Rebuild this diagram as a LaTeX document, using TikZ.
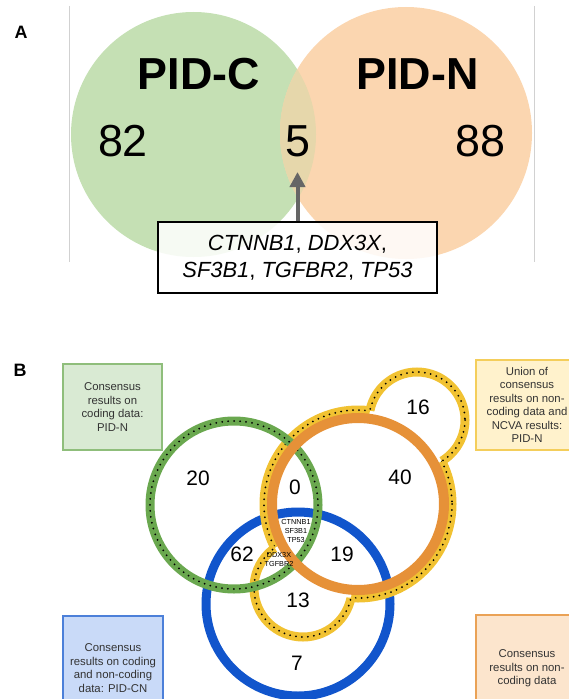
\documentclass[tikz,border=0pt]{standalone}
\usepackage{fontspec}
\setmainfont{Liberation Sans}
\usetikzlibrary{arrows.meta}
\definecolor{vennC}{RGB}{197,224,180}
\definecolor{vennN}{RGB}{251,214,176}
\definecolor{vennCN}{RGB}{230,215,171}
\definecolor{ringgreen}{RGB}{106,168,79}
\definecolor{ringblue}{RGB}{17,85,204}
\definecolor{ringorange}{RGB}{230,145,56}
\definecolor{ringyellow}{RGB}{241,194,50}
\definecolor{boxgreen}{RGB}{217,234,211}
\definecolor{boxyellow}{RGB}{255,242,204}
\definecolor{boxblue}{RGB}{201,218,248}
\definecolor{boxorange}{RGB}{252,229,205}
\begin{document}
\begin{tikzpicture}[x=1bp,y=-1bp,
		panel/.style={font=\bfseries\fontsize{18}{20}\selectfont},
		title/.style={font=\bfseries\fontsize{45}{54}\selectfont},
		bigcount/.style={font=\fontsize{45}{54}\selectfont},
		count/.style={font=\fontsize{21}{25}\selectfont},
		gene/.style={font=\fontsize{7.3}{9}\selectfont, align=center, inner sep=0pt},
		legend/.style={draw, line width=1.2bp, align=center, inner sep=2bp, text=black!80, font=\fontsize{11.4}{13.6}\selectfont},
		ring/.style={line width=9bp},
		dots/.style={line width=2bp, dash pattern=on 0bp off 6bp, line cap=round},
		pointer/.style={draw=black!60, line width=4bp, -{Triangle[width=15bp,length=15bp]}}]
	\useasboundingbox (0,0) rectangle (569,699);
	\clip (0,0) rectangle (569,699);
	% A
	\node[panel] (labA) at (21,32) {A};
	\draw[black!18] (69,6) -- (69,262);
	\draw[black!18] (534,6) -- (534,262);
	\coordinate (cC) at (193.5,134.5);
	\coordinate (cN) at (406,133);
	\fill[vennC] (cC) circle (122.5);
	\fill[vennN] (cN) circle (126);
	\begin{scope}
		\clip (cC) circle (122.5);
		\fill[vennCN] (cN) circle (126);
	\end{scope}
	\node[title] (pidc) at (199,74) {PID-C};
	\node[title] (pidn) at (417.5,74) {PID-N};
	\node[bigcount] (onlyC) at (123,141) {82};
	\node[bigcount] (both) at (297.5,141) {5};
	\node[bigcount] (onlyN) at (480,141) {88};
	\node[draw, line width=1.5bp, fill=white, fill opacity=.85, text opacity=1, minimum width=279bp, minimum height=71bp, align=center, font=\fontsize{22}{27}\selectfont] (genes) at (297.5,257.5)
		{{\itshape CTNNB1}, {\itshape DDX3X},\\{\itshape SF3B1}, {\itshape TGFBR2}, {\itshape TP53}};
	\coordinate (tip) at (297.5,172);
	\draw[pointer] (genes) -- (tip);
	% B
	\node[panel] (labB) at (20,370) {B};
	\coordinate (cG) at (234,505);
	\coordinate (cB) at (298,604);
	\coordinate (cO) at (358,504);
	\coordinate (cT) at (417,420);
	\coordinate (cL) at (303,588);
	\draw[ring, ringblue] (cB) circle (92);
	\begin{scope}[even odd rule]
		\clip (0,0) rectangle (569,699) (cT) circle (48);
		\clip (0,0) rectangle (569,699) (cL) circle (49);
		\draw[ring, ringyellow] (cO) circle (94);
		\draw[dots] (cO) circle (94);
	\end{scope}
	\begin{scope}[even odd rule]
		\clip (0,0) rectangle (569,699) (cO) circle (94);
		\draw[ring, ringyellow] (cT) circle (48) (cL) circle (49);
		\draw[dots] (cT) circle (48) (cL) circle (49);
	\end{scope}
	\draw[ring, ringgreen] (cG) circle (84);
	\draw[dots] (cG) circle (84);
	\draw[ring, ringorange, line width=10bp] (cO) circle (86);
	\node[count] (n20) at (198,478) {20};
	\node[count] (n0) at (295,487) {0};
	\node[count] (n40) at (400,477) {40};
	\node[count] (n16) at (418,407) {16};
	\node[count] (n62) at (242,554) {62};
	\node[count] (n19) at (342,554) {19};
	\node[count] (n13) at (298,600) {13};
	\node[count] (n7) at (297,663) {7};
	\node[gene] (core) at (296,531) {CTNNB1\\SF3B1\\TP53};
	\node[gene] (side) at (279,559.5) {DDX3X\\TGFBR2};
	\node[legend, draw=ringgreen!75, fill=boxgreen, minimum width=99bp, minimum height=86bp] (boxC) at (112.5,407)
		{Consensus\\results on\\coding data:\\PID-N};
	\node[legend, draw=ringyellow!80, fill=boxyellow, minimum width=102bp, minimum height=90bp] (boxU) at (527,405)
		{Union of\\consensus\\results on non-\\coding data and\\NCVA results:\\PID-N};
	\node[legend, draw=ringblue!75, fill=boxblue, minimum width=100bp, minimum height=104bp] (boxCN) at (113,668)
		{Consensus\\results on coding\\and non-coding\\data: PID-CN};
	\node[legend, draw=ringorange!85, fill=boxorange, minimum width=102bp, minimum height=107bp] (boxN) at (527,668.5)
		{Consensus\\results on non-\\coding data};
\end{tikzpicture}
\end{document}
